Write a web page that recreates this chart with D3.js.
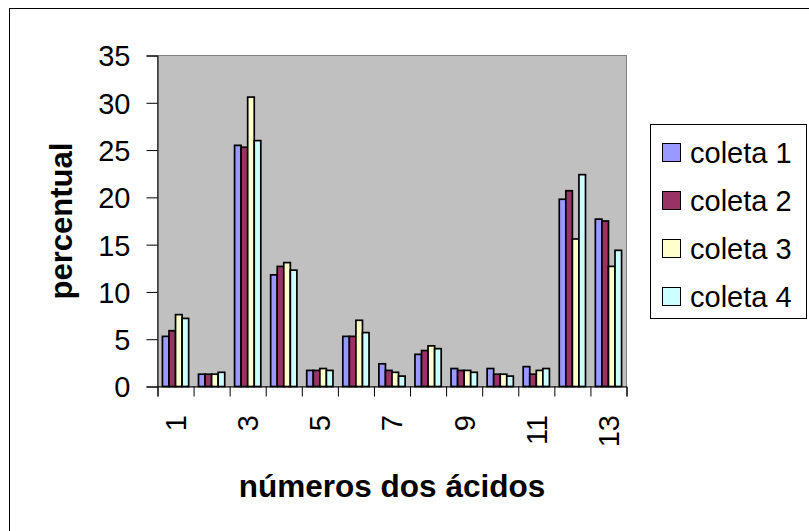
<!DOCTYPE html>
<html>
<head>
<meta charset="utf-8">
<script src="https://cdn.jsdelivr.net/npm/d3@7"></script>
<style>
  html, body { margin: 0; padding: 0; background: #fff; }
  svg { display: block; font-family: "Liberation Sans", Arial, sans-serif; }
</style>
</head>
<body>
<svg id="chart" width="809" height="531"></svg>
<script>
// Fatty-acid percentages per sample collection
const categories = [1, 2, 3, 4, 5, 6, 7, 8, 9, 10, 11, 12, 13];
const seriesNames = ["coleta 1", "coleta 2", "coleta 3", "coleta 4"];
const coleta1 = [5.3, 1.3, 25.5, 11.8, 1.7, 5.3, 2.4, 3.4, 1.9, 1.9, 2.1, 19.8, 17.7];
const coleta2 = [5.9, 1.3, 25.3, 12.7, 1.7, 5.3, 1.7, 3.8, 1.7, 1.3, 1.3, 20.7, 17.5];
const coleta3 = [7.6, 1.3, 30.6, 13.1, 1.9, 7.0, 1.5, 4.3, 1.7, 1.3, 1.7, 15.6, 12.7];
const coleta4 = [7.2, 1.5, 26.0, 12.3, 1.7, 5.7, 1.1, 4.0, 1.5, 1.1, 1.9, 22.4, 14.4];
const yTicks = [0, 5, 10, 15, 20, 25, 30, 35];
const xTickLabels = [1, 3, 5, 7, 9, 11, 13];
const colors = ["#9999FF", "#993366", "#FFFFCC", "#CCFFFF"];

const seriesValues = [coleta1, coleta2, coleta3, coleta4];
const rows = categories.map((c, i) => ({ cat: c, vals: seriesValues.map(s => s[i]) }));

const svg = d3.select("#chart");
const plot = { left: 157.5, right: 626.5, top: 55.5, bottom: 386.5 };

// outer chart frame
svg.append("rect")
  .attr("x", 9.5).attr("y", 8.5).attr("width", 840).attr("height", 560)
  .attr("fill", "#fff").attr("stroke", "#000").attr("stroke-width", 1);

const x = d3.scaleBand().domain(categories).range([plot.left, plot.right])
  .paddingInner(0.273).paddingOuter(0.1365);
const xs = d3.scaleBand().domain(d3.range(seriesNames.length)).range([0, x.bandwidth()]);
const y = d3.scaleLinear().domain([0, 35]).range([plot.bottom, plot.top]);

// plot area
svg.append("rect")
  .attr("x", plot.left).attr("y", plot.top)
  .attr("width", plot.right - plot.left).attr("height", plot.bottom - plot.top)
  .attr("fill", "#C0C0C0").attr("stroke", "#808080").attr("stroke-width", 1);

// bars
const groups = svg.append("g").selectAll("g").data(rows).join("g")
  .attr("transform", d => `translate(${x(d.cat)},0)`);
groups.selectAll("rect").data(d => d.vals.map((v, k) => ({ v, k }))).join("rect")
  .attr("x", d => xs(d.k))
  .attr("y", d => y(d.v))
  .attr("width", xs.bandwidth())
  .attr("height", d => y(0) - y(d.v))
  .attr("fill", d => colors[d.k])
  .attr("stroke", "#000").attr("stroke-width", 1.7);

// y axis
const yAxis = svg.append("g").attr("transform", `translate(${plot.left},0)`)
  .call(d3.axisLeft(y).tickValues(yTicks).tickSize(11).tickPadding(16).tickFormat(d3.format("d")));
yAxis.select(".domain").attr("stroke", "#000");
yAxis.selectAll(".tick line").attr("stroke", "#000");
yAxis.selectAll(".tick text")
  .attr("dy", "0.36em")
  .attr("font-size", 29).attr("font-family", "Liberation Sans, Arial, sans-serif")
  .attr("fill", "#000");

// x axis: tick marks sit on category boundaries
const xb = d3.scaleLinear().domain([0, categories.length]).range([plot.left, plot.right]);
const xAxis = svg.append("g").attr("transform", `translate(0,${plot.bottom})`)
  .call(d3.axisBottom(xb).tickValues(d3.range(categories.length + 1)).tickSize(10).tickFormat(""));
xAxis.select(".domain").attr("stroke", "#000");
xAxis.selectAll(".tick line").attr("stroke", "#000");

// x labels for every other category, rotated
svg.append("g").selectAll("text").data(xTickLabels).join("text")
  .attr("transform", d => `translate(${x(d) + x.bandwidth() / 2},415) rotate(-90)`)
  .attr("dy", "0.36em")
  .attr("text-anchor", "end")
  .attr("font-size", 29)
  .attr("fill", "#000")
  .text(d => d);

// axis titles
svg.append("text")
  .attr("transform", "translate(72,221) rotate(-90)")
  .attr("text-anchor", "middle").attr("font-weight", "bold").attr("font-size", 31)
  .attr("fill", "#000")
  .text("percentual");
svg.append("text")
  .attr("transform", "translate(392,497)")
  .attr("text-anchor", "middle").attr("font-weight", "bold").attr("font-size", 31.5)
  .attr("fill", "#000")
  .text("números dos ácidos");

// legend
const legend = svg.append("g");
legend.append("rect")
  .attr("x", 650.5).attr("y", 124.5).attr("width", 156).attr("height", 194)
  .attr("fill", "#fff").attr("stroke", "#000").attr("stroke-width", 1);
const items = legend.selectAll("g.item").data(seriesNames).join("g")
  .attr("class", "item")
  .attr("transform", (d, i) => `translate(0,${i * 48})`);
items.append("rect")
  .attr("x", 662.5).attr("y", 143.5).attr("width", 18).attr("height", 18)
  .attr("fill", (d, i) => colors[i]).attr("stroke", "#000").attr("stroke-width", 1);
items.append("text")
  .attr("x", 690).attr("y", 163)
  .attr("font-size", 29).attr("fill", "#000")
  .text(d => d);
</script>
</body>
</html>
